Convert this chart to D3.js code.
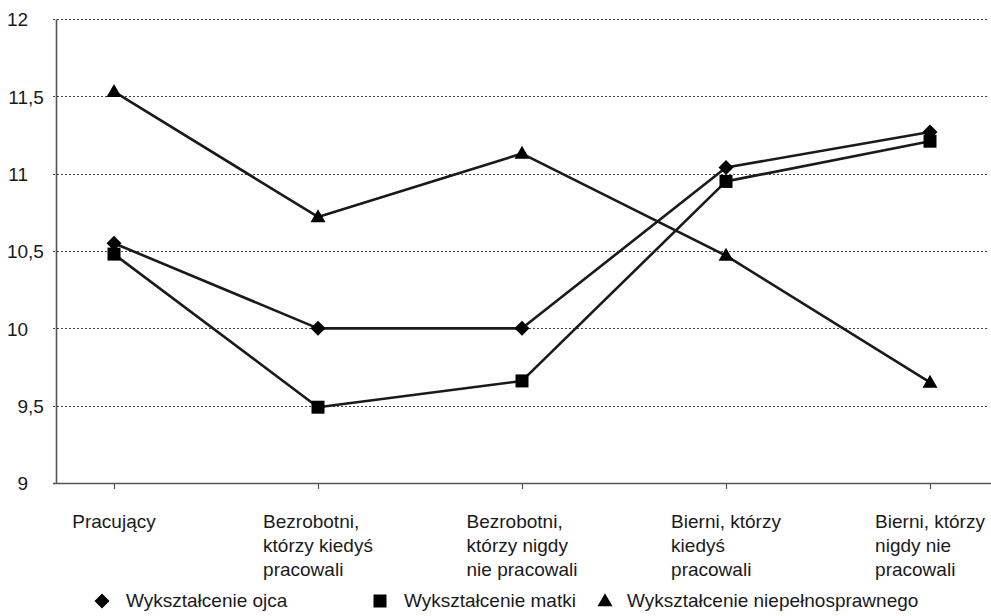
<!DOCTYPE html>
<html>
<head>
<meta charset="utf-8">
<script src="https://cdn.jsdelivr.net/npm/d3@7"></script>
<style>
  html, body { margin: 0; padding: 0; background: #fff; }
  svg { display: block; }
  text { font-family: "Liberation Sans", Arial, sans-serif; fill: #1a1a1a; }
</style>
</head>
<body>
<svg id="chart" width="991" height="616"></svg>
<script>
// ---- data ----
const categories = [
  ["Pracujący"],
  ["Bezrobotni,", "którzy kiedyś", "pracowali"],
  ["Bezrobotni,", "którzy nigdy", "nie pracowali"],
  ["Bierni, którzy", "kiedyś", "pracowali"],
  ["Bierni, którzy", "nigdy nie", "pracowali"]
];
const seriesNames = ["Wykształcenie ojca", "Wykształcenie matki", "Wykształcenie niepełnosprawnego"];
const seriesSymbols = ["diamond", "square", "triangle"];
const fatherValues = [10.55, 10.0, 10.0, 11.04, 11.27];
const motherValues = [10.48, 9.49, 9.66, 10.95, 11.21];
const disabledValues = [11.53, 10.72, 11.13, 10.47, 9.65];
const yTicks = [9, 9.5, 10, 10.5, 11, 11.5, 12];

const series = [fatherValues, motherValues, disabledValues];

// ---- layout ----
const svg = d3.select("#chart");
const FS = 19;
const FONT = FS + 'px "Liberation Sans", Arial, sans-serif';
const plotLeft = 56, plotRight = 988, gridLeft = 53;
const y = d3.scaleLinear().domain([9, 12]).range([483, 19]);
const catIdx = categories.map((c, i) => i);
const x = d3.scalePoint().domain(catIdx).range([114, 930]);

// gridlines (dotted)
svg.append("g").selectAll("line")
  .data(yTicks.filter(t => t !== 9))
  .join("line")
  .attr("x1", gridLeft).attr("x2", plotRight)
  .attr("y1", d => Math.round(y(d)) + 0.5).attr("y2", d => Math.round(y(d)) + 0.5)
  .attr("stroke", "#444").attr("stroke-width", 1).attr("stroke-dasharray", "2,2");

// y axis
const fmt = d => String(d).replace(".", ",");
const yAxis = svg.append("g")
  .attr("transform", `translate(${plotLeft},0)`)
  .call(d3.axisLeft(y).tickValues(yTicks).tickSize(0).tickFormat(fmt));
yAxis.select(".domain").attr("stroke", "#555").attr("stroke-width", 1.6);
const ctx = document.createElement("canvas").getContext("2d");
ctx.font = FONT;
yAxis.selectAll("text")
  .attr("font-size", FS)
  .attr("font-family", '"Liberation Sans", Arial, sans-serif')
  .attr("fill", "#1a1a1a")
  .attr("text-anchor", "start")
  .attr("dy", "0.36em")
  .attr("x", function(d) {
    const intPart = String(Math.floor(d));
    return (28 - plotLeft) - ctx.measureText(intPart).width;
  });

// x axis
const xAxis = svg.append("g")
  .attr("transform", `translate(0,483)`)
  .call(d3.axisBottom(x).tickSize(6).tickFormat(""));
xAxis.select(".domain").attr("d", `M${gridLeft},0.5H991`).attr("stroke", "#555").attr("stroke-width", 1.6);
xAxis.selectAll(".tick line").attr("stroke", "#555").attr("stroke-width", 1.2);

// category labels: block centered at tick, lines left aligned
const labelG = svg.append("g");
categories.forEach((lines, i) => {
  const w = d3.max(lines, l => ctx.measureText(l).width);
  const left = x(i) - w / 2;
  const t = labelG.append("text").attr("font-size", FS);
  lines.forEach((l, j) => {
    t.append("tspan").attr("x", left).attr("y", 528 + j * 24).text(l);
  });
});

// symbols
function symbolPath(type, cx, cy) {
  if (type === "diamond") {
    const r = 7.5;
    return `M${cx},${cy - r}L${cx + r},${cy}L${cx},${cy + r}L${cx - r},${cy}Z`;
  } else if (type === "square") {
    const h = 6.5;
    return `M${cx - h},${cy - h}H${cx + h}V${cy + h}H${cx - h}Z`;
  } else {
    const s = 15, hgt = 13;
    return `M${cx},${cy - hgt * 0.6}L${cx + s / 2},${cy + hgt * 0.4}L${cx - s / 2},${cy + hgt * 0.4}Z`;
  }
}

const line = d3.line().x((d, i) => x(i)).y(d => y(d));
series.forEach((vals, si) => {
  svg.append("path")
    .attr("d", line(vals))
    .attr("fill", "none")
    .attr("stroke", "#1a1a1a")
    .attr("stroke-width", 2.6)
    .attr("stroke-linejoin", "round");
});
series.forEach((vals, si) => {
  svg.append("g").selectAll("path")
    .data(vals)
    .join("path")
    .attr("d", (d, i) => symbolPath(seriesSymbols[si], x(i), y(d)))
    .attr("fill", "#000");
});

// legend
const legendPos = [[102, 126], [380, 404], [605, 627]];
seriesNames.forEach((n, i) => {
  svg.append("path").attr("d", symbolPath(seriesSymbols[i], legendPos[i][0], 601)).attr("fill", "#000");
  svg.append("text").attr("x", legendPos[i][1]).attr("y", 607).attr("font-size", FS).text(n);
});
</script>
</body>
</html>
